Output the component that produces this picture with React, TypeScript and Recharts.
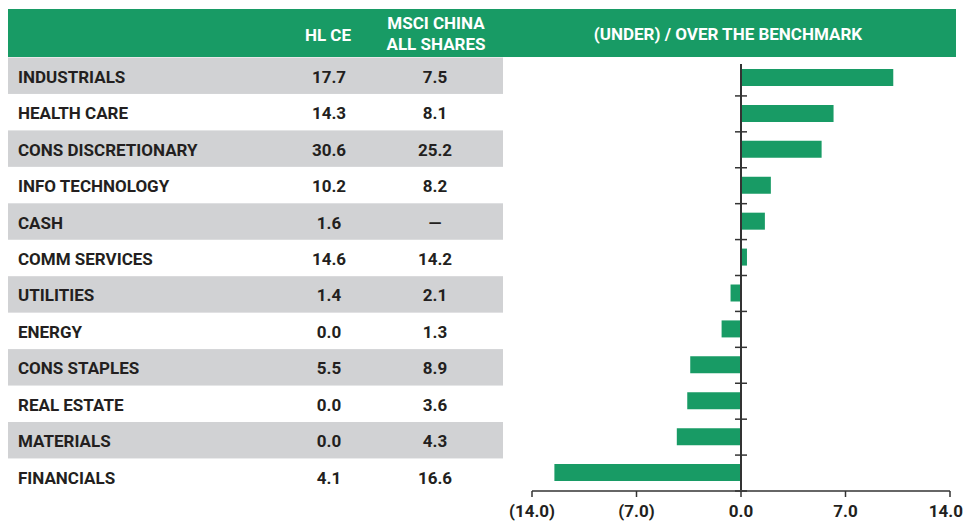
import React from "react";
import { BarChart, Bar, XAxis, YAxis, ReferenceLine } from "recharts";

const sectors = [
  "INDUSTRIALS",
  "HEALTH CARE",
  "CONS DISCRETIONARY",
  "INFO TECHNOLOGY",
  "CASH",
  "COMM SERVICES",
  "UTILITIES",
  "ENERGY",
  "CONS STAPLES",
  "REAL ESTATE",
  "MATERIALS",
  "FINANCIALS",
];
const hlCe = ["17.7", "14.3", "30.6", "10.2", "1.6", "14.6", "1.4", "0.0", "5.5", "0.0", "0.0", "4.1"];
const msciChina = ["7.5", "8.1", "25.2", "8.2", "—", "14.2", "2.1", "1.3", "8.9", "3.6", "4.3", "16.6"];
const overUnder = [10.2, 6.2, 5.4, 2.0, 1.6, 0.4, -0.7, -1.3, -3.4, -3.6, -4.3, -12.5];
const xTicks = [-14, -7, 0, 7, 14];

const data = sectors.map((name, i) => ({
  name,
  hl: hlCe[i],
  msci: msciChina[i],
  diff: overUnder[i],
}));

const GREEN = "#189b65";
const GREY = "#d1d2d4";
const INK = "#231f20";
const FONT = "Roboto, 'DejaVu Sans', sans-serif";

// table layout
const ROW_TOP = 57.5;
const ROW_H = 36.45;

function RowTick(props: any) {
  const { payload, index } = props;
  const i = index ?? payload.index;
  const top = ROW_TOP + i * ROW_H;
  const cy = top + ROW_H / 2 + 1;
  const row = data[i];
  const txt = { dominantBaseline: "central" as const, fontSize: 17, fontWeight: 700, fill: INK, fontFamily: FONT };
  return (
    <g>
      {i % 2 === 0 && <rect x={8} y={top} width={495} height={ROW_H} fill={GREY} />}
      <text x={18} y={cy} {...txt}>
        {payload.value}
      </text>
      <text x={329} y={cy} textAnchor="middle" {...txt}>
        {row.hl}
      </text>
      <text x={435} y={cy} textAnchor="middle" {...txt}>
        {row.msci}
      </text>
    </g>
  );
}

function ValueTick(props: any) {
  const { x, y, payload } = props;
  const last = payload.value === xTicks[xTicks.length - 1];
  return (
    <text
      x={last ? x + 13 : x}
      y={y}
      dy="0.71em"
      textAnchor={last ? "end" : "middle"}
      fontSize={17}
      fontWeight={700}
      fill={INK}
      fontFamily={FONT}
    >
      {fmt(payload.value)}
    </text>
  );
}

function ZeroLine(props: any) {
  const { x1, y1, x2, y2 } = props;
  const step = (y2 - y1) / data.length;
  return (
    <g>
      <line x1={x1} y1={y1 - 1} x2={x2} y2={y2 + 4} stroke="#333" strokeWidth={2} />
      {data.map((_, i) => (
        <line key={i} x1={x1 - 6} x2={x1 + 6} y1={y1 + i * step} y2={y1 + i * step} stroke="#333" strokeWidth={1.5} />
      ))}
    </g>
  );
}

const fmt = (v: number) => (v < 0 ? `(${Math.abs(v).toFixed(1)})` : v.toFixed(1));

const headStyle: React.CSSProperties = {
  position: "absolute",
  color: "#fff",
  fontFamily: FONT,
  fontWeight: 700,
  fontSize: 17,
  lineHeight: "21px",
  textAlign: "center",
  transform: "translateX(-50%)",
  whiteSpace: "nowrap",
};

export default function App() {
  return (
    <div style={{ position: "absolute", left: 0, top: 0, width: 964, height: 522, background: "#fff", overflow: "hidden" }}>
      <div style={{ position: "absolute", left: 8, top: 9, width: 948, height: 48, background: GREEN }} />
      <div style={{ ...headStyle, left: 328, top: 25 }}>HL CE</div>
      <div style={{ ...headStyle, left: 436, top: 13 }}>
        MSCI CHINA
        <br />
        ALL SHARES
      </div>
      <div style={{ ...headStyle, left: 728, top: 24 }}>(UNDER) / OVER THE BENCHMARK</div>
      <div style={{ position: "absolute", left: 0, top: 0 }}>
        <BarChart
          width={964}
          height={522}
          data={data}
          layout="vertical"
          margin={{ top: 60, right: 14, bottom: 0, left: 531 }}
          barCategoryGap={0}
        >
          <XAxis
            type="number"
            domain={[-14, 14]}
            ticks={xTicks}
            axisLine={{ stroke: "#333", strokeWidth: 1.5 }}
            tickLine={{ stroke: "#333", strokeWidth: 1.5 }}
            tickSize={6}
            tickMargin={8}
            height={31}
            tick={(p: any) => <ValueTick {...p} />}
            interval={0}
          />
          <YAxis
            type="category"
            dataKey="name"
            width={1}
            axisLine={false}
            tickLine={false}
            interval={0}
            tick={(p: any) => <RowTick {...p} />}
          />
          <Bar dataKey="diff" fill={GREEN} barSize={17} isAnimationActive={false} />
          <ReferenceLine x={0} shape={<ZeroLine />} />
        </BarChart>
      </div>
    </div>
  );
}
